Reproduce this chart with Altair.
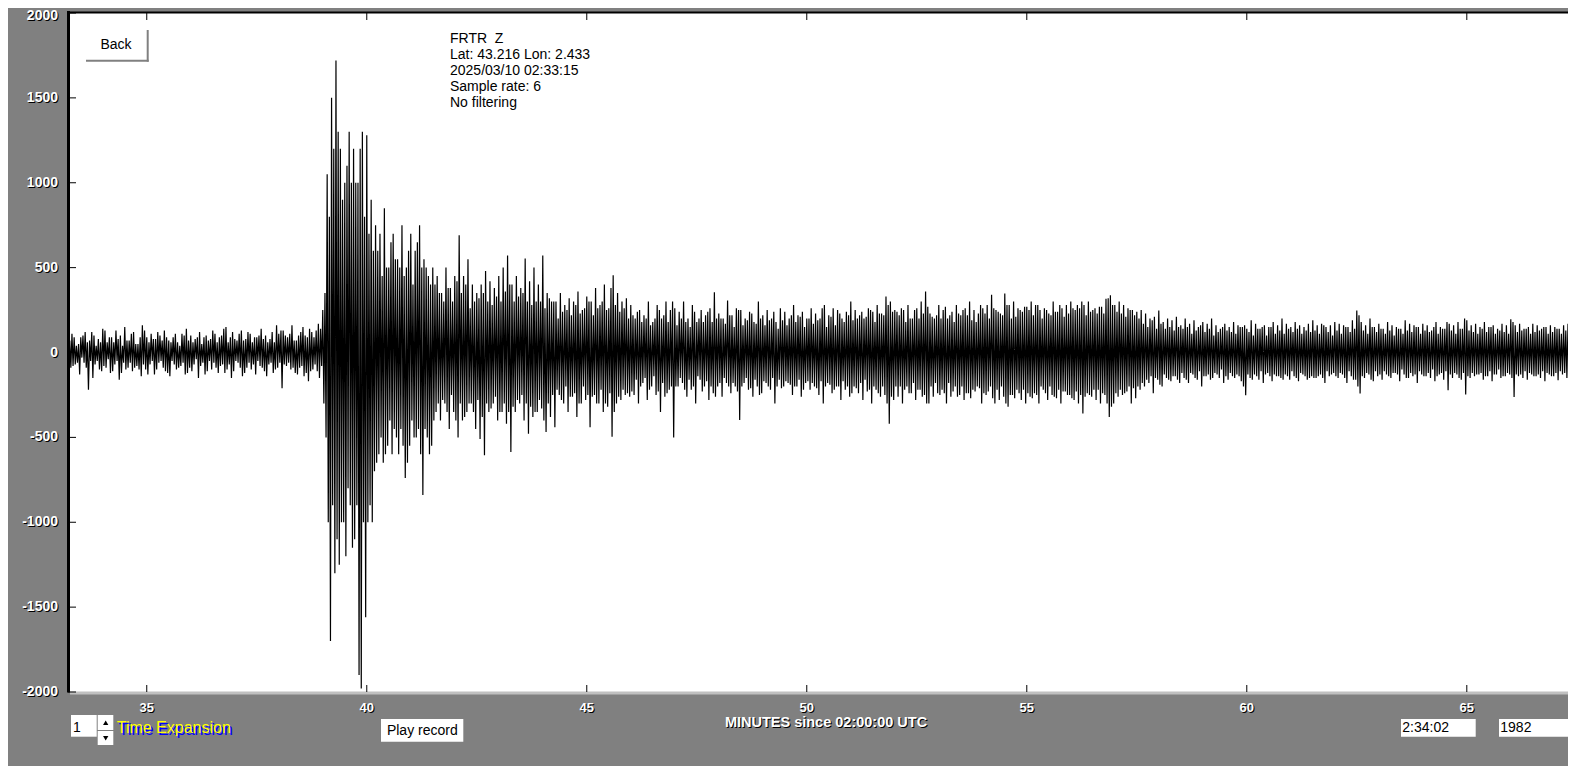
import altair as alt
import pandas as pd

# ---------------- data ----------------
START_MIN = 33.2      # first sample, minutes since 02:00:00 UTC
STEP_MIN = 0.025      # spacing of the read-off samples (minutes)

pre_event = [
    60, -40, 70, -90, 110, -80, 90, -70, 40, -60, 50, -130, 90, -30, 100, -60, 120, -90, 60, -220,
    70, -50, 120, -150, 100, -70, 40, -50, 80, -100, 60, -110, 140, -80, 130, -90, 60, -40, 90, -120,
    90, -110, 60, -70, 130, -50, 80, -160, 100, -120, 40, -60, 150, -100, 70, -90, 70, -60, 110, -110,
    120, -90, 50, -80, 50, -100, 90, -140, 160, -70, 130, -100, 90, -130, 60, -70, 110, -50, 80, -130,
    80, -100, 120, -60, 100, -50, 70, -90, 130, -110, 90, -120, 70, -140, 60, -50, 90, -70, 110, -100,
    60, -90, 40, -80, 110, -60, 100, -130, 140, -120, 70, -90, 100, -110, 60, -70, 80, -40, 90, -150,
    120, -80, 50, -60, 90, -130, 100, -110, 70, -50, 80, -100, 130, -60, 110, -90, 60, -120, 90, -80,
    100, -70, 140, -120, 150, -100, 60, -70, 90, -150, 120, -110, 80, -50, 70, -60, 110, -90, 130, -140,
    70, -120, 80, -90, 120, -60, 110, -100, 60, -70, 90, -130, 90, -50, 100, -80, 140, -90, 80, -110,
    100, -140, 60, -70, 80, -60, 120, -120, 60, -100, 160, -90, 110, -60, 130, -210, 130, -70, 100, -80,
    90, -60, 110, -100, 160, -90, 70, -120, 70, -130, 100, -90, 120, -80, 150, -140, 100, -120, 90, -170,
    140, -110, 120, -100, 90, -70, 130, -110, 170, -150, 140, -80, 250, -300, 350, -500,
]
onset = [
    1050, -1000, 800, -1700, 1500, -900, 1200, -1300, 1720, -1100, 1300, -1250, 1200, -1000, 900, -1000,
    1000, -1200, 1100, -800, 1300, -900, 1000, -1150, 1200, -1100, 1000, -900, 1000, -1900, 1200, -1980,
    1300, -1000, 800, -1560, 1280, -1000, 700, -900, 900, -1000, 600, -700, 750, -650,
]
strong = [
    600, -600, 700, -500, 450, -650, 850, -600, 500, -550, 500, -400, 650, -600, 700, -450, 550, -500,
    550, -600, 500, -450, 750, -550, 450, -740, 500, -650, 600, -550, 700, -400, 400, -500, 600, -500,
    650, -450, 750, -600, 500, -840, 550, -450, 500, -500, 450, -600, 400, -550, 500, -400,
]
mid = [
    400, -350, 450, -300, 350, -400, 350, -280, 300, -300, 500, -350, 380, -450, 380, -250, 300, -350, 450, -400,
    420, -500, 690, -300, 350, -400, 450, -380, 400, -350, 550, -300, 260, -300, 400, -350, 300, -450, 350, -280,
    320, -510, 400, -380, 350, -606, 480, -300, 300, -350, 420, -330, 280, -300, 380, -260, 330, -400, 450, -350,
    300, -350, 500, -300, 360, -420, 572, -350, 400, -586, 400, -320, 300, -350, 450, -280, 330, -300, 380, -250,
    350, -400, 553, -300, 300, -478, 420, -320, 280, -380, 500, -350, 300, -350, 400, -280, 300, -330, 572, -400,
    260, -468, 350, -300, 320, -380, 300, -250,
]
late = [
    300, -440, 300, -220, 200, -250, 350, -280, 240, -300, 280, -200, 250, -350, 320, -260, 220, -260, 300, -240,
    280, -380, 360, -300, 230, -300, 250, -200, 260, -280, 330, -250, 300, -440, 300, -260, 220, -250, 380, -300,
    260, -300, 280, -220, 300, -350, 400, -300, 250, -320, 260, -240, 380, -497, 455, -350, 280, -300, 350, -260,
    240, -280, 300, -220, 260, -250, 320, -240, 200, -260, 280, -230,
]
coda_a = [
    220, -250, 200, -160, 240, -300, 250, -200, 180, -180, 220, -150, 200, -280, 300, -220, 160, -200, 180, -140,
    200, -250, 280, -230, 250, -350, 200, -180, 220, -260, 300, -240, 180, -220, 250, -200, 300, -500, 260, -200,
    160, -200, 240, -150, 200, -180, 300, -220, 180, -260, 200, -160, 150, -220, 280, -200, 240, -300, 180, -140,
    200, -160, 250, -230, 180, -200, 220, -170, 240, -280, 260, -200, 180, -240, 355, -260, 200, -200, 230, -180,
    200, -260, 200, -150, 170, -180, 306, -200, 220, -240, 220, -180, 150, -200, 260, -230, 250, -397, 250, -200,
    160, -180, 200, -150, 190, -220, 240, -210, 230, -260, 180, -160, 170, -200, 300, -250, 200, -240, 220, -170,
    160, -180, 250, -200, 190, -220, 200, -150, 240, -300, 180, -200, 140, -160, 260, -210, 190, -200, 240, -170,
    160, -180, 200, -190, 220, -250, 280, -200, 180, -200, 220, -160, 210, -260, 240, -220, 150, -180, 200, -170,
    200, -220, 260, -180, 170, -200, 230, -210, 190, -250, 200, -170, 260, -300, 280, -200, 150, -180, 220, -190,
    210, -240, 260, -220, 160, -200, 250, -200, 230, -280, 200, -170, 180, -220, 240, -200, 220, -260, 300, -240,
    190, -200, 250, -210, 200, -240, 220, -180, 240, -280, 200, -160, 210, -230, 260, -220, 250, -300, 240, -200,
    180, -220, 280, -240, 230, -260, 230, -200, 220, -250, 330, -300, 280, -420, 300, -260, 240, -280, 250, -200,
]
coda_b = [
    240, -260, 220, -200, 260, -300, 250, -220, 180, -200, 280, -240, 200, -240, 200, -180, 250, -280, 260, -220,
    200, -220, 300, -260, 230, -250, 360, -300, 270, -300, 230, -200, 210, -260, 200, -180, 220, -240, 280, -250,
    200, -220, 250, -240, 270, -300, 200, -180, 220, -260, 240, -230, 180, -200, 280, -260, 230, -250, 220, -200,
    250, -280, 260, -240, 220, -240, 300, -270, 190, -220, 250, -230, 180, -200, 230, -210, 280, -300, 260, -240,
    230, -250, 280, -230, 200, -200, 340, -270, 260, -300, 250, -220, 240, -280, 230, -200, 220, -260, 348, -300,
    280, -320, 280, -250, 200, -250, 300, -270, 210, -220, 260, -240, 250, -280, 240, -220, 270, -300, 270, -240,
    250, -260, 300, -270, 220, -240, 280, -250, 280, -300, 250, -200, 200, -220, 260, -240, 250, -280, 230, -200,
    220, -250, 300, -260, 240, -270, 240, -220, 280, -300, 260, -230, 210, -230, 280, -250, 230, -250, 300, -270,
    260, -280, 250, -230, 280, -300, 260, -250, 300, -360, 280, -260, 220, -240, 300, -250, 240, -260, 250, -220,
    260, -280, 230, -220, 270, -300, 270, -240, 230, -250, 317, -300, 320, -380, 337, -320, 280, -300, 280, -240,
    240, -260, 300, -220, 230, -250, 280, -240, 210, -230, 260, -200, 250, -300, 250, -210, 220, -270, 240, -200,
]
coda_c = [
    200, -220, 250, -180, 170, -200, 230, -160, 150, -180, 200, -140, 190, -240, 210, -150, 140, -160, 248, -190,
    170, -200, 180, -130, 140, -150, 200, -160, 150, -170, 190, -140, 130, -140, 210, -160, 150, -180, 160, -120,
    140, -150, 200, -160, 150, -180, 170, -120, 110, -130, 190, -150, 130, -160, 150, -110, 160, -200, 180, -140,
    120, -140, 170, -130, 140, -160, 200, -150, 100, -120, 160, -130, 120, -150, 140, -100, 150, -180, 170, -140,
    130, -160, 150, -120, 120, -140, 180, -150, 110, -130, 160, -140, 150, -170, 150, -200, 160, -252, 140, -130,
    120, -150, 190, -160, 100, -130, 170, -140, 140, -160, 140, -110, 150, -180, 160, -130, 100, -120, 150, -140,
    150, -170, 180, -130, 110, -140, 160, -140, 130, -150, 200, -160, 110, -130, 170, -140, 140, -160, 150, -110,
    120, -140, 180, -150, 140, -170, 160, -120, 110, -130, 150, -140, 130, -160, 170, -150, 120, -140, 190, -150,
    130, -150, 160, -140, 110, -130, 170, -150, 160, -180, 150, -110, 120, -140, 160, -130, 100, -120, 180, -140,
]
coda_d = [
    130, -150, 170, -120, 110, -130, 160, -150, 150, -180, 150, -110, 120, -140, 190, -160, 140, -160, 248, -200,
    220, -242, 180, -140, 130, -150, 160, -120, 110, -130, 200, -160, 150, -170, 150, -110, 120, -140, 170, -130,
    140, -160, 140, -110, 110, -130, 180, -140, 130, -150, 160, -120, 100, -120, 150, -130, 140, -170, 140, -100,
    110, -130, 190, -150, 130, -150, 170, -120, 120, -140, 160, -130, 150, -180, 150, -110, 110, -130, 170, -140,
    130, -140, 160, -120, 120, -150, 130, -100, 150, -170, 180, -140, 110, -130, 150, -120, 140, -160, 140, -110,
    180, -223, 170, -130, 130, -150, 160, -120, 110, -130, 180, -150, 140, -160, 140, -120, 200, -247, 190, -140,
    130, -150, 160, -120, 120, -140, 170, -130, 110, -130, 150, -120, 140, -160, 180, -140, 120, -140, 150, -110,
    150, -170, 160, -130, 110, -130, 140, -100, 130, -150, 170, -140, 120, -140, 160, -120, 110, -130, 196, -150,
    180, -262, 160, -130, 120, -140, 170, -130, 130, -150, 140, -110, 140, -160, 150, -120, 110, -130, 170, -140,
    120, -140, 160, -130, 130, -150, 140, -110, 150, -170, 150, -120, 110, -130, 160, -140, 120, -140, 150, -120,
    140, -164, 140, -110, 110, -130, 160, -120, 130, -150, 170, -130, 120, -140,
]

y_ticks = [2000, 1500, 1000, 500, 0, -500, -1000, -1500, -2000]
x_ticks = [35, 40, 45, 50, 55, 60, 65]
info_lines = ["FRTR\u00a0 Z", "Lat: 43.216 Lon: 2.433", "2025/03/10 02:33:15",
              "Sample rate: 6", "No filtering"]
x_title = "MINUTES since 02:00:00 UTC"
back_label = "Back"
expansion_value = "1"
expansion_label = "Time Expansion"
play_label = "Play record"
time_box = "2:34:02"
count_box = "1982"

# ---------------- build ----------------
values = pre_event + onset + strong + mid + late + coda_a + coda_b + coda_c + coda_d
minutes = [round(START_MIN + STEP_MIN * i, 4) for i in range(len(values))]
trace = pd.DataFrame({"minute": minutes, "count": values})
ydf = pd.DataFrame({"v": y_ticks, "label": [str(v) for v in y_ticks]})
xdf = pd.DataFrame({"v": x_ticks, "label": [str(v) for v in x_ticks]})
one = pd.DataFrame({"k": [0]})

W, H = 1500, 679
FONT = "Liberation Sans"
xs = alt.Scale(domain=[33.21, 67.30], nice=False, zero=False)
ys = alt.Scale(domain=[-2000, 2000], nice=False, zero=False)
X = lambda f: alt.X(f, scale=xs, axis=None)
Y = lambda f: alt.Y(f, scale=ys, axis=None)

line = alt.Chart(trace).mark_line(color="black", strokeWidth=1.2, clip=True).encode(
    x=X("minute:Q"), y=Y("count:Q"))

# borders
top_border = alt.Chart(one).mark_rule(color="black", strokeWidth=2).encode(
    x=alt.value(0), x2=alt.value(W), y=alt.value(-0.5))
left_border = alt.Chart(one).mark_rule(color="black", strokeWidth=3).encode(
    x=alt.value(0.5), y=alt.value(-2), y2=alt.value(H + 0.5))
bottom_border = alt.Chart(one).mark_rule(color="#c0c0c0", strokeWidth=3).encode(
    x=alt.value(2), x2=alt.value(W), y=alt.value(H + 1))

# ticks (inward)
y_tick_marks = alt.Chart(ydf).mark_rule(color="black", strokeWidth=1).encode(
    y=Y("v:Q"), x=alt.value(0), x2=alt.value(8))
x_tick_top = alt.Chart(xdf).mark_rule(color="black", strokeWidth=1).encode(
    x=X("v:Q"), y=alt.value(0), y2=alt.value(7))
x_tick_bot = alt.Chart(xdf).mark_rule(color="black", strokeWidth=1).encode(
    x=X("v:Q"), y=alt.value(H - 7), y2=alt.value(H))


def shadow_text(chart_base, enc, color, shadow, dy=0, **kw):
    s = chart_base.mark_text(color=shadow, dx=1, dy=dy + 1, font=FONT, **kw).encode(**enc)
    t = chart_base.mark_text(color=color, dy=dy, font=FONT, **kw).encode(**enc)
    return [s, t]


y_enc = dict(y=Y("v:Q"), x=alt.value(-10), text="label:N")
y_kw = dict(align="right", baseline="middle", fontSize=14, fontWeight="bold")
y_labels = (shadow_text(alt.Chart(ydf).transform_filter("datum.v < 2000"), y_enc, "white", "black", **y_kw)
            + shadow_text(alt.Chart(ydf).transform_filter("datum.v >= 2000"), y_enc, "white", "black",
                          dy=3, **y_kw))
x_labels = shadow_text(alt.Chart(xdf), dict(x=X("v:Q"), y=alt.value(694.5), text="label:N"),
                       "white", "black", align="center", baseline="middle",
                       fontSize=13, fontWeight="bold")
title = shadow_text(alt.Chart(one), dict(x=alt.value(758), y=alt.value(709.5), text=alt.value(x_title)),
                    "white", "black", align="center", baseline="middle",
                    fontSize=14.5, fontWeight="bold")

# info block
info = alt.Chart(one).mark_text(align="left", baseline="alphabetic", font=FONT,
                                fontSize=14, lineHeight=16, color="black").encode(
    x=alt.value(382), y=alt.value(29.5), text=alt.value(info_lines))

# Back button
back_shadow_r = alt.Chart(one).mark_rule(color="#808080", strokeWidth=2).encode(
    x=alt.value(79.7), y=alt.value(17), y2=alt.value(48.7))
back_shadow_b = alt.Chart(one).mark_rule(color="#808080", strokeWidth=2).encode(
    x=alt.value(18), x2=alt.value(80.7), y=alt.value(47.8))
back_text = alt.Chart(one).mark_text(align="center", baseline="middle", font=FONT,
                                     fontSize=14, color="black").encode(
    x=alt.value(48), y=alt.value(32), text=alt.value(back_label))


def box(x1, x2, y1, y2):
    return alt.Chart(one).mark_rect(color="white").encode(
        x=alt.value(x1), x2=alt.value(x2), y=alt.value(y1), y2=alt.value(y2))


def label(x, y, txt, align="left", color="black", size=14, **kw):
    return alt.Chart(one).mark_text(align=align, baseline="alphabetic", font=FONT,
                                    fontSize=size, color=color, **kw).encode(
        x=alt.value(x), y=alt.value(y), text=alt.value(txt))


widgets = [
    box(3, 28.7, 702, 723.7), label(5, 718.7, expansion_value),
    box(29.7, 45.3, 702, 717), box(29.7, 45.3, 718, 732),
    alt.Chart(one).mark_point(shape="triangle-up", filled=True, size=28, color="black",
                              opacity=1).encode(x=alt.value(37.7), y=alt.value(709.7)),
    alt.Chart(one).mark_point(shape="triangle-down", filled=True, size=28, color="black",
                              opacity=1).encode(x=alt.value(37.7), y=alt.value(725.3)),
    label(50.7, 721.7, expansion_label, color="#0000ff", size=16),
    label(48.7, 719.7, expansion_label, color="#ffff00", size=16),
    box(313, 395.3, 706, 728.7), label(354.3, 722, play_label, align="center"),
    box(1333, 1407.7, 706, 723.7), label(1334.3, 719.3, time_box),
    box(1431, 1510, 706, 723.7), label(1432.3, 719.3, count_box),
]

layers = ([line, top_border, bottom_border, left_border, y_tick_marks, x_tick_top, x_tick_bot]
          + y_labels + x_labels + title + [info, back_shadow_r, back_shadow_b, back_text] + widgets)

chart = alt.layer(*layers).properties(
    width=W, height=H,
    background="#808080",
    padding={"left": 60, "top": 5, "right": 0, "bottom": 74},
    autosize=alt.AutoSizeParams(type="none"),
).configure_view(strokeWidth=0, fill="white")

chart.save("out.html", embed_options={"renderer": "svg", "actions": False})
